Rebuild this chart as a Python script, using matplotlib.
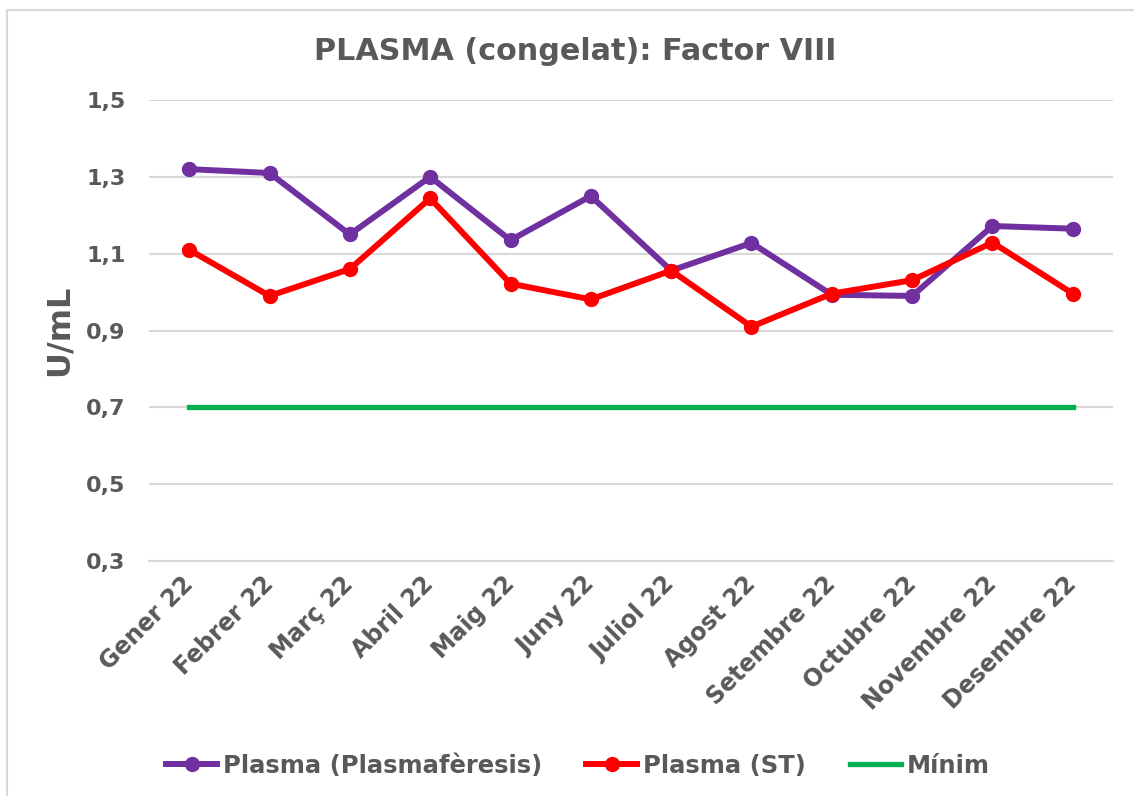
import matplotlib.pyplot as plt
from matplotlib.lines import Line2D

# data
months = ["Gener 22", "Febrer 22", "Març 22", "Abril 22", "Maig 22", "Juny 22",
          "Juliol 22", "Agost 22", "Setembre 22", "Octubre 22", "Novembre 22", "Desembre 22"]
plasmaferesis = [1.32, 1.31, 1.15, 1.30, 1.135, 1.25, 1.056, 1.128, 0.993, 0.99, 1.172, 1.165]
plasma_st = [1.11, 0.99, 1.06, 1.244, 1.022, 0.981, 1.056, 0.91, 0.996, 1.031, 1.129, 0.996]
minim = [0.7] * len(months)
yticks = [0.3, 0.5, 0.7, 0.9, 1.1, 1.3, 1.5]

text_col = "#595959"
grid_col = "#D9D9D9"

plt.rcParams['font.family'] = ['DejaVu Sans']
plt.rcParams['font.weight'] = 'bold'

fig = plt.figure(figsize=(11.34, 7.96), dpi=100)
ax = fig.add_axes([149 / 1134, 1 - 561 / 796, (1113 - 149) / 1134, (561 - 100) / 796])

x = list(range(len(months)))
ax.plot(x, plasmaferesis, color="#7030A0", lw=4.3, marker="o", ms=10,
        label="Plasma (Plasmafèresis)", zorder=3)
ax.plot(x, plasma_st, color="#FF0000", lw=4.3, marker="o", ms=10,
        label="Plasma (ST)", zorder=4)
ax.plot(x, minim, color="#00B050", lw=3.8, label="Mínim", zorder=2)

ax.set_xlim(-0.5, len(months) - 0.5)
ax.set_ylim(0.3, 1.5)
ax.set_yticks(yticks)
ax.set_yticklabels([f"{v:.1f}".replace(".", ",") for v in yticks])
ax.set_xticks(x)
ax.set_xticklabels(months, rotation=45, ha="right", va="center", rotation_mode="anchor")

ax.grid(axis="y", color=grid_col, lw=1.5)
ax.set_axisbelow(True)
for s in ax.spines.values():
    s.set_visible(False)
ax.spines["bottom"].set_visible(True)
ax.spines["bottom"].set_color(grid_col)
ax.spines["bottom"].set_linewidth(1.5)
ax.tick_params(axis="both", length=0, labelcolor=text_col)
ax.tick_params(axis="y", pad=17, labelsize=16)
ax.tick_params(axis="x", pad=14, labelsize=17)

ax.set_ylabel("U/mL", fontsize=23, color=text_col, fontweight="bold", labelpad=8)
fig.text(575 / 1134, 1 - 51 / 796, "PLASMA (congelat): Factor VIII", ha="center", va="center",
         fontsize=21.8, color=text_col, fontweight="bold")

leg = fig.legend(loc="center", bbox_to_anchor=(578 / 1134, 1 - 766 / 796), ncol=3, frameon=False,
                 fontsize=17.5, handlelength=2.1, handletextpad=0.25, columnspacing=1.8)
for t in leg.get_texts():
    t.set_color(text_col)

# chart frame (only left and top edges show in the crop)
fig.add_artist(Line2D([7 / 1134, 7 / 1134], [0, 1 - 10 / 796], color=grid_col, lw=1.5))
fig.add_artist(Line2D([7 / 1134, 1], [1 - 10 / 796, 1 - 10 / 796], color=grid_col, lw=1.5))

fig.savefig("out.png", dpi=100)
